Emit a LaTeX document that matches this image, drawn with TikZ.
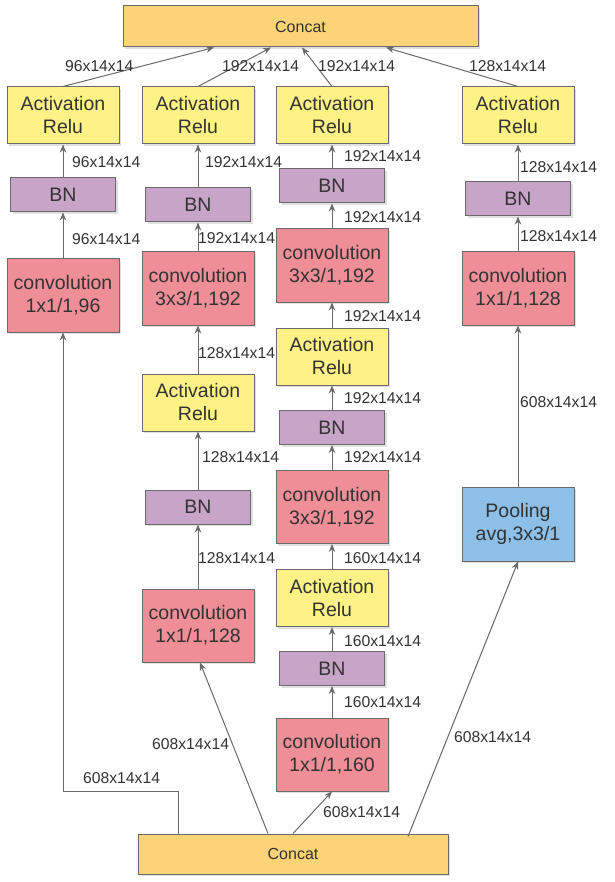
\documentclass[tikz,border=0pt]{standalone}
\usepackage{fontspec}
\setmainfont{Liberation Sans}
\usetikzlibrary{arrows.meta,shadows}
\definecolor{cconcat}{HTML}{FCD377}
\definecolor{cact}{HTML}{FEF287}
\definecolor{cbn}{HTML}{C8A5C8}
\definecolor{cconv}{HTML}{EF8E96}
\definecolor{cpool}{HTML}{8CC0E8}
\definecolor{cline}{HTML}{6A6A6A}
\definecolor{ctext}{HTML}{333333}
\tikzset{
  box/.style={draw=cline, line width=1pt, align=center, inner sep=0pt, text=ctext,
    font=\fontsize{19.5}{23}\selectfont,
    drop shadow={shadow xshift=2pt, shadow yshift=-2pt, fill=black, opacity=0.12}},
  concatbox/.style={box, fill=cconcat, font=\fontsize{16}{18}\selectfont},
  actbox/.style={box, fill=cact, minimum width=112pt, minimum height=57pt},
  bnbox/.style={box, fill=cbn, minimum width=105pt, minimum height=34pt},
  convbox/.style={box, fill=cconv, minimum width=112pt, minimum height=73pt},
  poolbox/.style={box, fill=cpool, minimum width=112pt, minimum height=74pt},
  arr/.style={draw=cline, line width=1pt, -{Stealth[length=8pt,width=6.5pt]}},
  lbl/.style={inner sep=0pt, anchor=west, text=ctext, font=\fontsize{15.7}{18}\selectfont},
}
\begin{document}
\begin{tikzpicture}[x=1pt,y=-1pt]
\useasboundingbox[fill=white] (0,0) rectangle (614,882);
% concat boxes
\node[concatbox, minimum width=355pt, minimum height=41pt] (ct) at (300.5,26.5) {Concat};
\node[concatbox, minimum width=310pt, minimum height=40pt] (cb) at (293,854) {Concat};
% column 1
\node[actbox]  (a1)  at (63,115.5) {Activation\\Relu};
\node[bnbox]   (b1)  at (63,195)   {BN};
\node[convbox] (c1)  at (63,295.5) {convolution\\1x1/1,96};
% column 2
\node[actbox]  (a2)  at (198,115.5) {Activation\\Relu};
\node[bnbox]   (b2)  at (198,205)   {BN};
\node[convbox] (c2)  at (198,288.5) {convolution\\3x3/1,192};
\node[actbox]  (a2b) at (198,402.5) {Activation\\Relu};
\node[bnbox]   (b2b) at (198,507)   {BN};
\node[convbox] (c2b) at (198,625.5) {convolution\\1x1/1,128};
% column 3
\node[actbox]  (a3)  at (332,115.5) {Activation\\Relu};
\node[bnbox]   (b3)  at (332,186)   {BN};
\node[convbox] (c3)  at (332,265.5) {convolution\\3x3/1,192};
\node[actbox]  (a3b) at (332,356.5) {Activation\\Relu};
\node[bnbox]   (b3b) at (332,427.5) {BN};
\node[convbox] (c3b) at (332,507)   {convolution\\3x3/1,192};
\node[actbox]  (a3c) at (332,598)   {Activation\\Relu};
\node[bnbox]   (b3c) at (332,668.5) {BN};
\node[convbox] (c3c) at (332,754.5) {convolution\\1x1/1,160};
% column 4
\node[actbox]  (a4)  at (518,115.5) {Activation\\Relu};
\node[bnbox]   (b4)  at (518,199)   {BN};
\node[convbox] (c4)  at (518,288.5) {convolution\\1x1/1,128};
\node[poolbox] (p4)  at (518,524)   {Pooling\\avg,3x3/1};
% top connectors
\draw[arr] (a1.north) -- ([xshift=-86.5pt]ct.south);
\draw[arr] (a2.north) -- ([xshift=-29.5pt]ct.south);
\draw[arr] (a3.north) -- ([xshift=1.5pt]ct.south);
\draw[arr] (a4.north) -- ([xshift=85.5pt]ct.south);
% column connectors
\draw[arr] (b1.north) -- (a1.south);
\draw[arr] (c1.north) -- (b1.south);
\draw[arr] (b2.north) -- (a2.south);
\draw[arr] (c2.north) -- (b2.south);
\draw[arr] (a2b.north) -- (c2.south);
\draw[arr] (b2b.north) -- (a2b.south);
\draw[arr] (c2b.north) -- (b2b.south);
\draw[arr] (b3.north) -- (a3.south);
\draw[arr] (c3.north) -- (b3.south);
\draw[arr] (a3b.north) -- (c3.south);
\draw[arr] (b3b.north) -- (a3b.south);
\draw[arr] (c3b.north) -- (b3b.south);
\draw[arr] (a3c.north) -- (c3b.south);
\draw[arr] (b3c.north) -- (a3c.south);
\draw[arr] (c3c.north) -- (b3c.south);
\draw[arr] (b4.north) -- (a4.south);
\draw[arr] (c4.north) -- (b4.south);
\draw[arr] (p4.north) -- (c4.south);
% bottom connectors
\coordinate (bend) at (63,791);
\draw[arr] ([xshift=-115pt]cb.north) |- (bend) -- (c1.south);
\draw[arr] ([xshift=-25pt]cb.north) -- ([xshift=2pt]c2b.south);
\draw[arr] (cb.north) -- (c3c.south);
\draw[arr] ([xshift=115pt,yshift=-3pt]cb.north) -- (p4.south);
% labels
\node[lbl] (t1) at (65,66)  {96x14x14};
\node[lbl] (t2) at (222,66) {192x14x14};
\node[lbl] (t3) at (318,66) {192x14x14};
\node[lbl] (t4) at (469,66) {128x14x14};
\node[lbl] (l1a) at (72,162) {96x14x14};
\node[lbl] (l1b) at (72,239) {96x14x14};
\node[lbl] (l2a) at (205,162) {192x14x14};
\node[lbl] (l2b) at (198,238) {192x14x14};
\node[lbl] (l2c) at (198,353) {128x14x14};
\node[lbl] (l2d) at (202,457) {128x14x14};
\node[lbl] (l2e) at (198,558) {128x14x14};
\node[lbl] (l3a) at (344,156) {192x14x14};
\node[lbl] (l3b) at (344,217) {192x14x14};
\node[lbl] (l3c) at (344,316) {192x14x14};
\node[lbl] (l3d) at (344,398) {192x14x14};
\node[lbl] (l3e) at (344,457) {192x14x14};
\node[lbl] (l3f) at (344,558) {160x14x14};
\node[lbl] (l3g) at (344,641) {160x14x14};
\node[lbl] (l3h) at (344,702) {160x14x14};
\node[lbl] (l4a) at (520,167) {128x14x14};
\node[lbl] (l4b) at (520,236) {128x14x14};
\node[lbl] (l4c) at (520,402) {608x14x14};
\node[lbl] (m1) at (83,778)  {608x14x14};
\node[lbl] (m2) at (152,744) {608x14x14};
\node[lbl] (m3) at (323,812) {608x14x14};
\node[lbl] (m4) at (454,737) {608x14x14};
\end{tikzpicture}
\end{document}
